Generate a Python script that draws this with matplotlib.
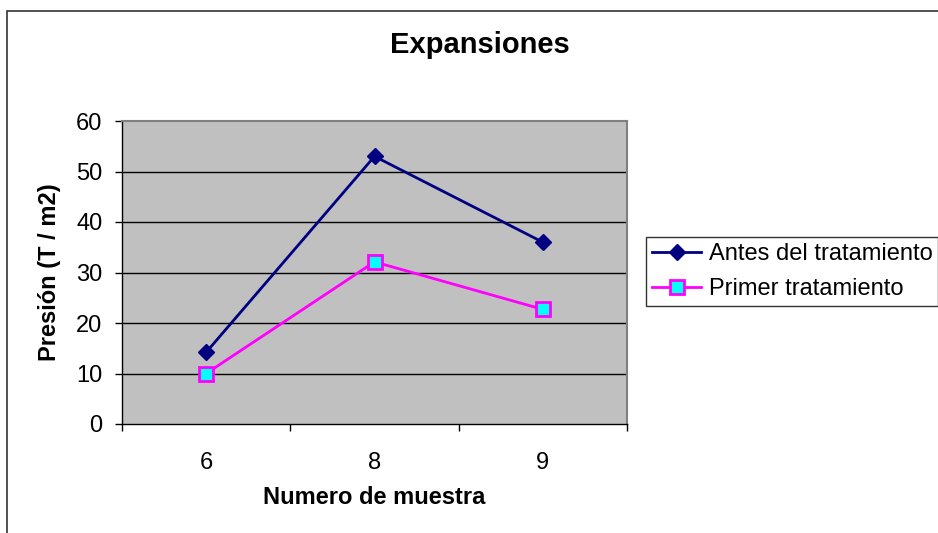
import numpy as np
import matplotlib; matplotlib.use("Agg"); import matplotlib.pyplot as plt
from matplotlib.patches import Rectangle

plt.rcParams["font.family"] = ["Liberation Sans", "DejaVu Sans"]

muestras = ["6", "8", "9"]
antes = [14.2, 53.0, 36.0]
primer = [10.0, 32.1, 22.7]
yticks = [0, 10, 20, 30, 40, 50, 60]

fig = plt.figure(figsize=(9.38, 5.33), dpi=100)
W, H = 938, 533
ax = fig.add_axes([122 / W, 1 - 424 / H, (627 - 122) / W, (424 - 121) / H])
ax.set_facecolor("#C0C0C0")

x = np.arange(len(muestras))
ax.plot(x, antes, color="#000080", lw=2, marker="D", ms=8.5,
        mfc="#000080", mec="#000080", label="Antes del tratamiento")
ax.plot(x, primer, color="#FF00FF", lw=2, marker="s", ms=9.5,
        mfc="#00FFFF", mec="#FF00FF", mew=2, label="Primer tratamiento")

ax.set_xlim(-0.5, 2.5)
ax.set_ylim(0, 60)
ax.set_yticks(yticks)
ax.tick_params(axis="y", labelsize=17, length=5, width=1, direction="out", pad=9)
ax.set_xticks(x)
ax.set_xticklabels(muestras)
ax.tick_params(axis="x", which="major", labelsize=17, length=0, pad=20)
ax.set_xticks([-0.5, 0.5, 1.5, 2.5], minor=True)
ax.tick_params(axis="x", which="minor", length=5, width=1, direction="out")
for v in yticks[1:-1]:
    ax.axhline(v, color="black", lw=1, zorder=1)
for s in ["top", "right"]:
    ax.spines[s].set_color("#808080")
    ax.spines[s].set_linewidth(1.5)
for s in ["left", "bottom"]:
    ax.spines[s].set_color("black")
    ax.spines[s].set_linewidth(1)

fig.text(50 / W, 1 - 272 / H, "Presión (T / m2)", fontsize=17, fontweight="bold",
         rotation=90, ha="center", va="center")
fig.text(374 / W, 1 - 498 / H, "Numero de muestra", fontsize=17, fontweight="bold",
         ha="center", va="center")
fig.text(480 / W, 1 - 45 / H, "Expansiones", fontsize=21, fontweight="bold",
         ha="center", va="center")

leg = fig.legend(loc="upper left", bbox_to_anchor=(646 / W, 1 - 237 / H),
                 fontsize=17, frameon=True, fancybox=False, borderaxespad=0,
                 handlelength=2.1, handletextpad=0.3, borderpad=0.25,
                 labelspacing=0.55)
leg.get_frame().set_edgecolor("black")
leg.get_frame().set_linewidth(1)

fig.patches.append(Rectangle((7 / W, -0.1), 1.2, 1 - 11 / H + 0.1,
                             transform=fig.transFigure, fill=False,
                             edgecolor="#333333", lw=1.2))

fig.savefig("out.png", dpi=100)
